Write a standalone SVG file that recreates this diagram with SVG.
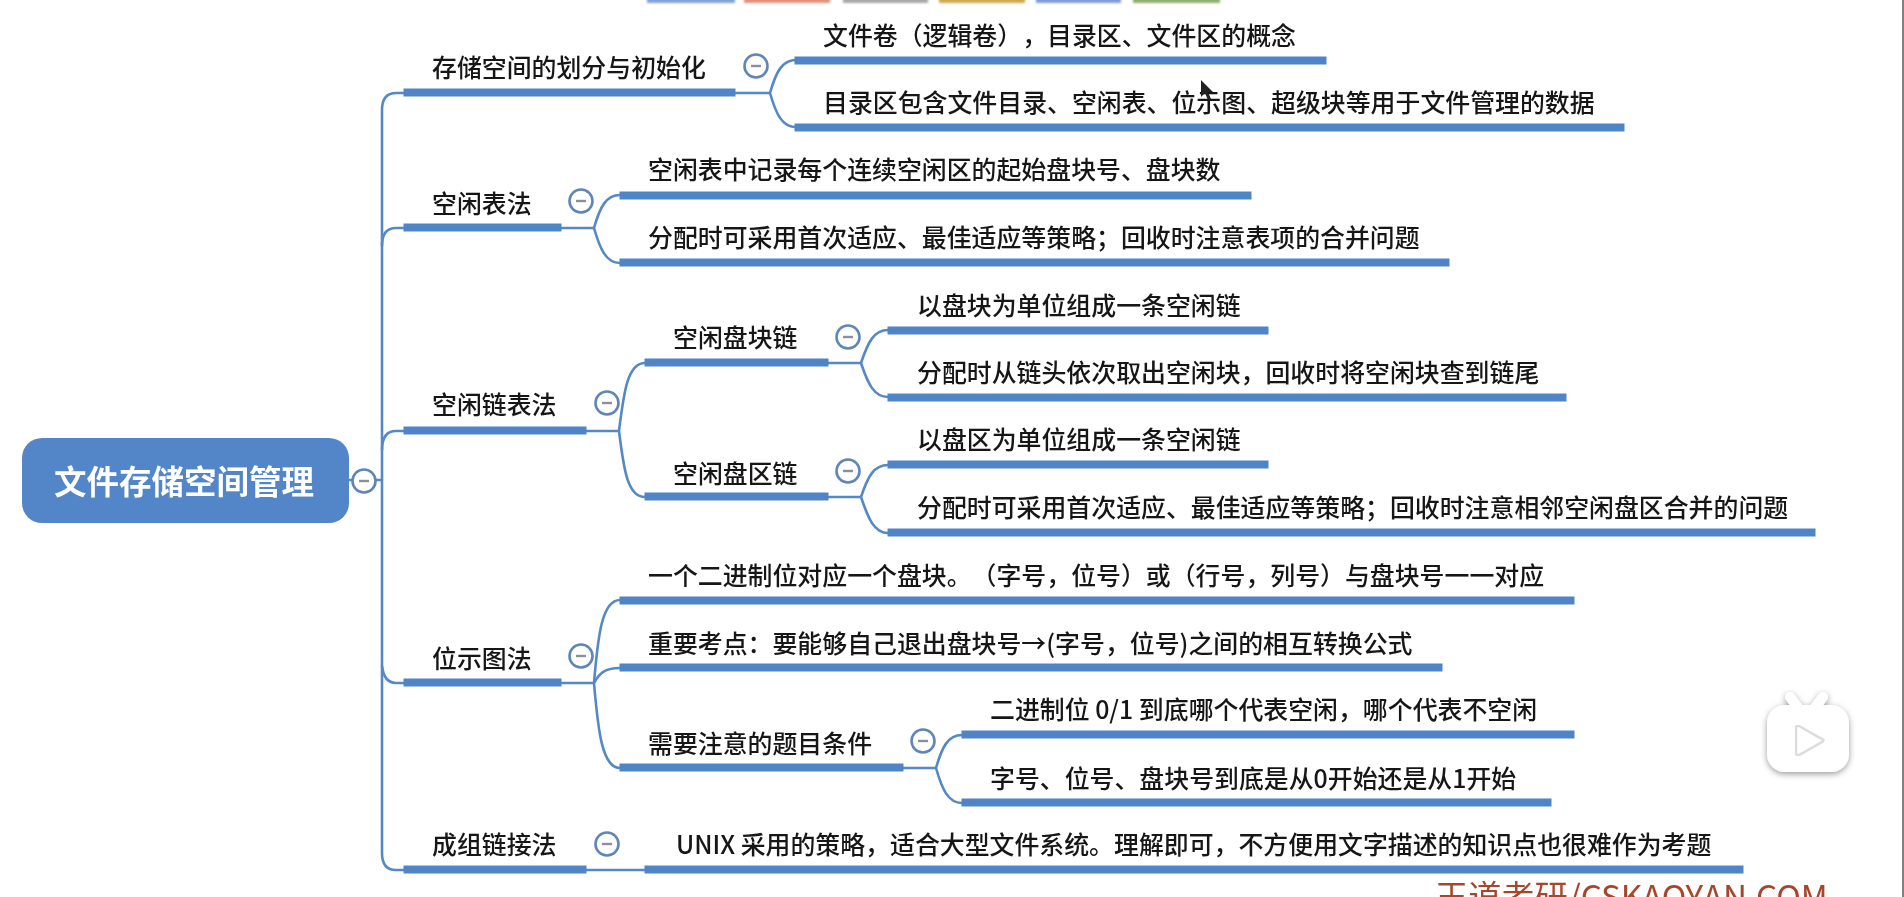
<svg xmlns="http://www.w3.org/2000/svg" width="1904" height="897" viewBox="0 0 1904 897">
<defs>
<filter id="soft" x="-2%" y="-2%" width="104%" height="104%"><feGaussianBlur stdDeviation="0.55"/></filter>
<filter id="shadow" x="-30%" y="-30%" width="160%" height="160%"><feDropShadow dx="0" dy="2" stdDeviation="3" flood-color="#000" flood-opacity="0.4"/></filter>
<filter id="tabblur" x="-10%" y="-100%" width="120%" height="400%"><feGaussianBlur stdDeviation="1.2"/></filter>
<g id="toggle"><circle r="11.5" fill="#fff" stroke="#5f86b5" stroke-width="2.6"/><rect x="-5" y="-1.2" width="10" height="2.4" fill="#8a8f98"/></g>
</defs>
<style>
text{font-family:"Noto Sans CJK SC","Noto Sans",sans-serif;font-size:24.9px;font-weight:500;fill:#141414;text-spacing-trim:space-all;font-feature-settings:"palt" 0;}
.bar{fill:#4f85c6;stroke:#4f85c6;stroke-width:1;}
.link{fill:none;stroke:#5588c4;stroke-width:2.6;}
#root-box{fill:#5286c8;}
#root text{font-size:32.5px;font-weight:700;fill:#fff;}
#watermark{font-size:33.2px;font-weight:400;fill:#a8452c;}
</style>
<rect width="1904" height="897" fill="#fff"/>
<g id="tabs" filter="url(#tabblur)">
<rect x="647" y="-3" width="88" height="6" fill="#7fa3d6"/>
<rect x="744" y="-3" width="86" height="6" fill="#e2907a"/>
<rect x="843" y="-3" width="85" height="6" fill="#a8a8a8"/>
<rect x="939" y="-3" width="86" height="6" fill="#d0a94f"/>
<rect x="1036" y="-3" width="85" height="6" fill="#7f9bd6"/>
<rect x="1133" y="-3" width="87" height="6" fill="#8fae6c"/>
</g>
<g filter="url(#soft)">
<g id="connectors">
<path class="link" d="M349 480H382"/>
<path class="link" d="M404 93H396Q382 93 382 110V853Q382 870 396 870H404"/>
<path class="link" d="M382 246Q382 228 396 228H404"/>
<path class="link" d="M382 450Q382 431 396 431H404"/>
<path class="link" d="M382 666Q384 683 396 683H404"/>
<path class="link" d="M735 93H770"/>
<path class="link" d="M796 60C782 60 776 72 770 93C776 114 782 127 796 127"/>
<path class="link" d="M561 228H594"/>
<path class="link" d="M620 195C606 195 600 207 594 228C600 249 606 263 620 263"/>
<path class="link" d="M586 431H619"/>
<path class="link" d="M645 363C628 363 624 390 619 431C624 472 628 497 645 497"/>
<path class="link" d="M828 363H861"/>
<path class="link" d="M888 330C874 330 868 342 861 363C868 384 874 397 888 397"/>
<path class="link" d="M828 497H861"/>
<path class="link" d="M888 465C874 465 868 476 861 497C868 518 874 533 888 533"/>
<path class="link" d="M561 683H594"/>
<path class="link" d="M620 600C602 600 598 635 594 683C598 730 602 768 620 768"/>
<path class="link" d="M620 668C606 668 600 672 594 683"/>
<path class="link" d="M903 768H936"/>
<path class="link" d="M962 735C948 735 942 747 936 768C942 789 948 803 962 803"/>
<path class="link" d="M586 870H645"/>
</g>
<g id="root">
<rect id="root-box" x="22" y="438" width="327" height="85" rx="20"/>
<text x="54" y="494">文件存储空间管理</text>
<use href="#toggle" x="364" y="481"/>
</g>
<g id="n1"><rect class="bar" x="404" y="89" width="331" height="7"/><text x="432" y="77">存储空间的划分与初始化</text><use href="#toggle" x="756" y="66"/></g>
<g id="n1-1"><rect class="bar" x="795" y="57" width="531" height="7"/><text x="823" y="45">文件卷（逻辑卷），目录区、文件区的概念</text></g>
<g id="n1-2"><rect class="bar" x="795" y="124" width="829" height="7"/><text x="823" y="112">目录区包含文件目录、空闲表、位示图、超级块等用于文件管理的数据</text></g>
<g id="n2"><rect class="bar" x="404" y="224" width="157" height="7"/><text x="432" y="213">空闲表法</text><use href="#toggle" x="581" y="201"/></g>
<g id="n2-1"><rect class="bar" x="620" y="192" width="631" height="7"/><text x="648" y="179">空闲表中记录每个连续空闲区的起始盘块号、盘块数</text></g>
<g id="n2-2"><rect class="bar" x="620" y="259" width="829" height="7"/><text x="648" y="247">分配时可采用首次适应、最佳适应等策略；回收时注意表项的合并问题</text></g>
<g id="n3"><rect class="bar" x="404" y="427" width="182" height="7"/><text x="432" y="414">空闲链表法</text><use href="#toggle" x="607" y="403"/></g>
<g id="n3-1"><rect class="bar" x="645" y="359" width="183" height="7"/><text x="673" y="347">空闲盘块链</text><use href="#toggle" x="848" y="337"/></g>
<g id="n3-1-1"><rect class="bar" x="888" y="327" width="380" height="7"/><text x="917" y="315">以盘块为单位组成一条空闲链</text></g>
<g id="n3-1-2"><rect class="bar" x="888" y="394" width="678" height="7"/><text x="917" y="382">分配时从链头依次取出空闲块，回收时将空闲块查到链尾</text></g>
<g id="n3-2"><rect class="bar" x="645" y="493" width="183" height="7"/><text x="673" y="483">空闲盘区链</text><use href="#toggle" x="848" y="471"/></g>
<g id="n3-2-1"><rect class="bar" x="888" y="461" width="380" height="7"/><text x="917" y="449">以盘区为单位组成一条空闲链</text></g>
<g id="n3-2-2"><rect class="bar" x="888" y="529" width="927" height="7"/><text x="917" y="517">分配时可采用首次适应、最佳适应等策略；回收时注意相邻空闲盘区合并的问题</text></g>
<g id="n4"><rect class="bar" x="404" y="679" width="157" height="7"/><text x="432" y="668">位示图法</text><use href="#toggle" x="581" y="656"/></g>
<g id="n4-1"><rect class="bar" x="620" y="597" width="954" height="7"/><text x="648" y="585">一个二进制位对应一个盘块。（字号，位号）或（行号，列号）与盘块号一一对应</text></g>
<g id="n4-2"><rect class="bar" x="620" y="664" width="822" height="7"/><text x="648" y="653">重要考点：要能够自己退出盘块号→(字号，位号)之间的相互转换公式</text></g>
<g id="n4-3"><rect class="bar" x="620" y="764" width="283" height="7"/><text x="648" y="753">需要注意的题目条件</text><use href="#toggle" x="923" y="741"/></g>
<g id="n4-3-1"><rect class="bar" x="962" y="731" width="612" height="7"/><text x="990" y="719">二进制位 0/1 到底哪个代表空闲，哪个代表不空闲</text></g>
<g id="n4-3-2"><rect class="bar" x="962" y="799" width="589" height="7"/><text x="990" y="788">字号、位号、盘块号到底是从0开始还是从1开始</text></g>
<g id="n5"><rect class="bar" x="404" y="866" width="182" height="7"/><text x="432" y="854">成组链接法</text><use href="#toggle" x="607" y="844"/></g>
<g id="n5-1"><rect class="bar" x="645" y="866" width="1098" height="7"/><text x="676" y="854">UNIX 采用的策略，适合大型文件系统。理解即可，不方便用文字描述的知识点也很难作为考题</text></g>
<text id="watermark" x="1435" y="909">王道考研/CSKAOYAN.COM</text>
<polygon id="cursor" points="1201,80 1201,97 1205,93 1208,100 1211,99 1208,92 1213,92" fill="#222"/>
</g>
<g id="play" filter="url(#shadow)">
<path d="M1790 697L1799 709M1823 697L1814 709" stroke="#fff" stroke-width="10" stroke-linecap="round" fill="none"/>
<rect x="1767" y="705" width="82" height="67" rx="18" fill="#fff"/>
</g>
<path d="M1799 726L1822 739Q1825 740 1822 742L1799 755Q1796 756 1796 753V728Q1796 725 1799 726Z" fill="#fff" stroke="#dcdcdc" stroke-width="2.5" filter="url(#soft)"/>
<rect x="1902" y="0" width="2" height="897" fill="#555" opacity="0.75"/>
</svg>
